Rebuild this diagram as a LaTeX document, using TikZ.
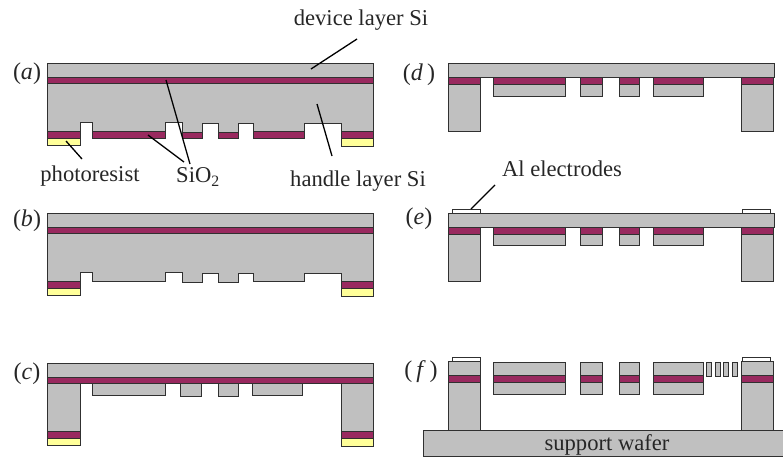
\documentclass[tikz,border=0pt]{standalone}
\usepackage{fontspec}
\setmainfont{Liberation Serif}
\definecolor{sigrey}{HTML}{C0C0C0}
\definecolor{oxide}{HTML}{99295F}
\definecolor{resist}{HTML}{FFFF99}
\definecolor{edge}{HTML}{303030}
\tikzset{
  base/.style={draw=edge,line width=1pt,line join=miter},
  si/.style={base,fill=sigrey},
  ox/.style={base,fill=oxide},
  pr/.style={base,fill=resist},
  al/.style={base,fill=white,line width=0.9pt},
  lab/.style={font=\fontsize{22.6}{24}\selectfont,inner sep=0pt,text=black!85},
  letter/.style={font=\fontsize{24}{26}\selectfont,inner sep=0pt,text=black!85},
  leader/.style={draw=black,line width=1.3pt}
}
\newcommand{\topstack}{%
  \draw[si] (47.5,63.5) rectangle (373,77);
  \draw[ox] (47.5,77) rectangle (373,83.5);
}
\newcommand{\padsL}{%
  \draw[ox] (47.5,131) rectangle (80,138);
  \draw[pr] (47.5,138) rectangle (80,145.5);
  \draw[ox] (341,131) rectangle (373,138.5);
  \draw[pr] (341,138.5) rectangle (373,146);
}
\newcommand{\handlebody}{%
  \draw[si] (47.5,83.5) -- (47.5,131) -- (80,131) -- (80,122.5) -- (92.5,122.5) -- (92.5,131.5) -- (165,131.5) -- (165,122) -- (182,122) -- (182,132) -- (202,132) -- (202,123) -- (218.5,123) -- (218.5,132) -- (238.5,132) -- (238.5,123) -- (253,123) -- (253,131.5) -- (304,131.5) -- (304,123.5) -- (341,123.5) -- (341,131) -- (373,131) -- (373,83.5) -- cycle;
}
\newcommand{\islands}[2]{%
  \draw[si] (493.5,#1) rectangle (565.5,#2);
  \draw[si] (580.5,#1) rectangle (602,#2);
  \draw[si] (619,#1) rectangle (639,#2);
  \draw[si] (653,#1) rectangle (703,#2);
}
\newcommand{\oxides}[2]{%
  \draw[ox] (448.5,#1) rectangle (480.5,#2);
  \draw[ox] (493.5,#1) rectangle (565.5,#2);
  \draw[ox] (580.5,#1) rectangle (602,#2);
  \draw[ox] (619,#1) rectangle (639,#2);
  \draw[ox] (653,#1) rectangle (703,#2);
  \draw[ox] (741.5,#1) rectangle (773.5,#2);
}
\begin{document}
\begin{tikzpicture}[x=1pt,y=-1pt]
\useasboundingbox (0,0) rectangle (783,459);
% (a)
\handlebody
\topstack
\padsL
\draw[ox] (92.5,131.5) rectangle (165,138);
\draw[ox] (182,132) rectangle (202,138);
\draw[ox] (218.5,132) rectangle (238.5,138);
\draw[ox] (253,131.5) rectangle (304,138);
% (b)
\begin{scope}[shift={(0,150)}]
\handlebody
\topstack
\padsL
\end{scope}
% (c)
\begin{scope}[shift={(0,300)}]
\topstack
\draw[si] (47.5,83.5) rectangle (80,131);
\draw[si] (341,83.5) rectangle (373,131);
\padsL
\draw[si] (92.5,83.5) rectangle (165,95.5);
\draw[si] (180,83.5) rectangle (201.5,96);
\draw[si] (218,83.5) rectangle (238.5,96);
\draw[si] (252.5,83.5) rectangle (302.5,95.5);
\end{scope}
% (d)
\draw[si] (448.5,83.5) rectangle (480.5,131);
\draw[si] (741.5,83.5) rectangle (773.5,131);
\islands{84}{96}
\oxides{77}{84}
\draw[si] (448,63.5) rectangle (774,77);
% (e)
\draw[al] (452,209.5) rectangle (480,213);
\draw[al] (742,209.5) rectangle (770,213);
\draw[si] (448.5,233.5) rectangle (480.5,281);
\draw[si] (741.5,233.5) rectangle (773.5,281);
\islands{234}{245.5}
\oxides{227}{234}
\draw[si] (448,213.5) rectangle (774,227);
% (f)
\draw[al] (452,357.5) rectangle (480,361.5);
\draw[al] (742,357.5) rectangle (770,361.5);
\draw[si] (448.5,361.5) rectangle (480.5,430);
\draw[si] (741.5,361.5) rectangle (773.5,430);
\islands{362}{394}
\oxides{375.5}{382}
\foreach \cx in {706.5,715,723.5,732.5}
  \draw[base,fill=sigrey,line width=0.8pt] (\cx,362.5) rectangle (\cx+5,376);
\draw[si] (423,430) -- (783.5,430) -- (783.5,456) -- (423,456) -- cycle;
\node[lab] (wafer) at (607,445) {support wafer};
% panel letters
\node[letter] (la) at (27,74) {(\textit{a})};
\node[letter] (lb) at (27,220.5) {(\textit{b})};
\node[letter] (lc) at (27,374) {(\textit{c})};
\node[letter] (ld) at (419,75) {(\textit{d}\,)};
\node[letter] (le) at (419,219) {(\textit{e})};
\node[letter] (lf) at (421,372) {(\,\textit{f}\,)};
% labels
\node[lab] (device) at (361,20) {device layer Si};
\node[lab] (photo) at (90,176) {photoresist};
\node[lab] (sio) at (198,177) {SiO\textsubscript{2}};
\node[lab] (handle) at (358,181) {handle layer Si};
\node[lab] (alel) at (562,169) {Al electrodes};
% leader ends
\coordinate (dev0) at (357,39);  \coordinate (dev1) at (311,69);
\coordinate (ph0) at (82,159);   \coordinate (ph1) at (66,141);
\coordinate (so0) at (190,164);  \coordinate (so1) at (166,80);
\coordinate (so2) at (184,162);  \coordinate (so3) at (148,135);
\coordinate (ha0) at (332,156);  \coordinate (ha1) at (317,104);
\coordinate (al0) at (495,185);  \coordinate (al1) at (471,209);
\draw[leader] (dev0) -- (dev1);
\draw[leader] (ph0) -- (ph1);
\draw[leader] (so0) -- (so1);
\draw[leader] (so2) -- (so3);
\draw[leader] (ha0) -- (ha1);
\draw[leader] (al0) -- (al1);
\end{tikzpicture}
\end{document}
